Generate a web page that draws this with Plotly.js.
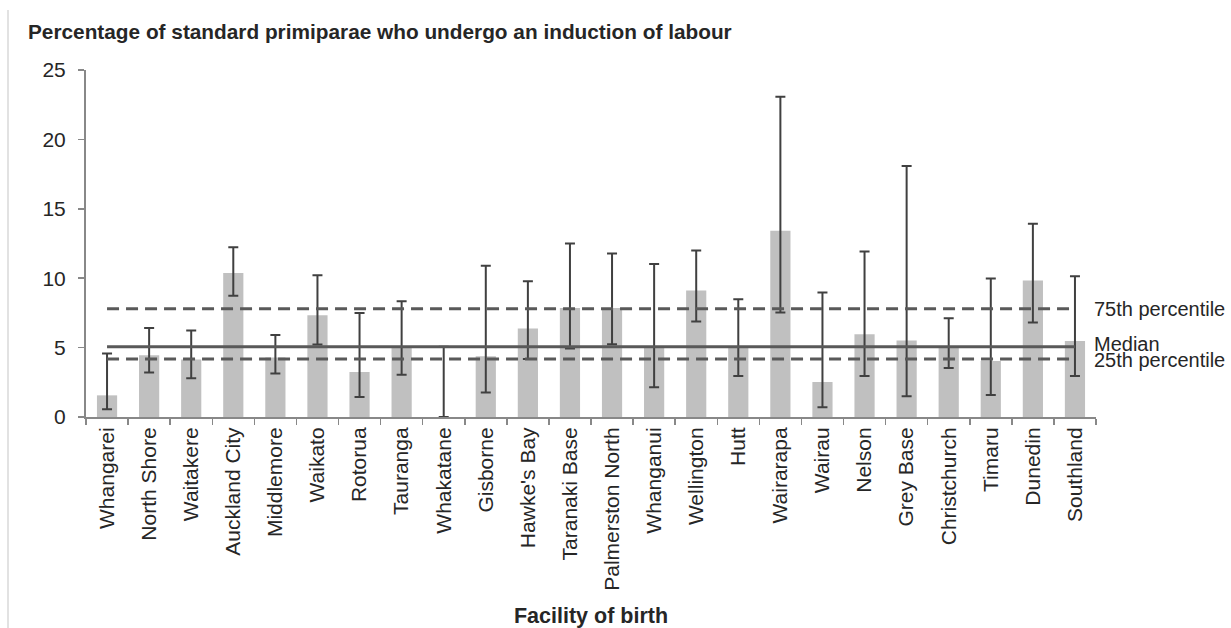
<!DOCTYPE html>
<html>
<head>
<meta charset="utf-8">
<script src="https://cdn.plot.ly/plotly-3.0.1.min.js"></script>
<style>html,body{margin:0;padding:0;background:#fff;}#chart{width:1231px;height:628px;}</style>
</head>
<body>
<div id="chart"></div>
<script>
const facilities = ["Whangarei","North Shore","Waitakere","Auckland City","Middlemore","Waikato","Rotorua","Tauranga","Whakatane","Gisborne","Hawke's Bay","Taranaki Base","Palmerston North","Whanganui","Wellington","Hutt","Wairarapa","Wairau","Nelson","Grey Base","Christchurch","Timaru","Dunedin","Southland"];
const rates  = [1.56, 4.45, 4.14, 10.38, 4.28, 7.33, 3.25, 5.05, 0, 4.38, 6.37, 7.86, 7.86, 5.05, 9.11, 5.05, 13.41, 2.52, 5.96, 5.51, 5.05, 4.04, 9.83, 5.48];
const ciUpper = [4.57, 6.42, 6.23, 12.23, 5.91, 10.22, 7.50, 8.34, 5.07, 10.89, 9.78, 12.50, 11.78, 11.03, 12.00, 8.49, 23.07, 8.97, 11.92, 18.08, 7.12, 9.98, 13.92, 10.14];
const ciLower = [0.55, 3.20, 2.79, 8.73, 3.13, 5.22, 1.44, 3.05, 0, 1.76, 4.18, 4.93, 5.24, 2.14, 6.88, 2.96, 7.53, 0.70, 2.96, 1.49, 3.53, 1.59, 6.80, 2.96];
const median = 5.07;
const p75 = 7.79;
const p25 = 4.18;
const yTicks = [0, 5, 10, 15, 20, 25];

const errPlus = rates.map((v, i) => ciUpper[i] - v);
const errMinus = rates.map((v, i) => v - ciLower[i]);
const firstLast = [facilities[0], facilities[facilities.length - 1]];

const FONT = "Liberation Sans, Arial, sans-serif";
const lineCol = "#595959";
const txtCol = "#262626";

const traces = [
  {
    type: "bar", x: facilities, y: rates,
    marker: {color: "#c0c0c0"},
    error_y: {type: "data", symmetric: false, array: errPlus, arrayminus: errMinus,
              color: "#404040", thickness: 2, width: 5},
    hoverinfo: "x+y"
  },
  {type: "scatter", mode: "lines", x: firstLast, y: [p75, p75],
   line: {color: lineCol, width: 3, dash: "12px,7px"}, hoverinfo: "skip"},
  {type: "scatter", mode: "lines", x: firstLast, y: [p25, p25],
   line: {color: lineCol, width: 3, dash: "12px,7px"}, hoverinfo: "skip"},
  {type: "scatter", mode: "lines", x: firstLast, y: [median, median],
   line: {color: lineCol, width: 3}, hoverinfo: "skip"}
];

const layout = {
  width: 1231, height: 628,
  margin: {l: 86, r: 135, t: 70, b: 211},
  paper_bgcolor: "#fff", plot_bgcolor: "#fff",
  showlegend: false,
  bargap: 0.52,
  font: {family: FONT, color: txtCol},
  title: {text: "<b>Percentage of standard primiparae who undergo an induction of labour</b>",
          font: {family: FONT, size: 20.8, color: txtCol},
          x: 28/1231, xref: "container", xanchor: "left",
          y: 1 - 32/628, yref: "container", yanchor: "middle"},
  xaxis: {
    type: "category", tickangle: -90,
    tickfont: {family: FONT, size: 21, color: txtCol},
    showline: true, linecolor: "#888", linewidth: 2,
    ticks: "outside", ticklen: 6, tickcolor: "#888", tickwidth: 1.5,
    tickson: "boundaries", showgrid: false, zeroline: false,
    range: [-0.5, facilities.length - 0.5],
    title: {text: "<b>Facility of birth</b>", font: {family: FONT, size: 21.5, color: txtCol}, standoff: 18}
  },
  yaxis: {
    range: [0, 25], tickvals: yTicks, ticktext: yTicks.map(String),
    tickfont: {family: FONT, size: 21, color: txtCol},
    showline: true, linecolor: "#888", linewidth: 2,
    ticks: "outside", ticklen: 6, tickcolor: "#888", tickwidth: 1.5,
    showgrid: false, zeroline: false, ticklabelstandoff: 8
  },
  annotations: [
    {text: "75th percentile", x: 1, xref: "paper", xanchor: "left", xshift: -4, y: p75, yref: "y", yanchor: "middle", showarrow: false, font: {family: FONT, size: 20, color: txtCol}},
    {text: "Median", x: 1, xref: "paper", xanchor: "left", xshift: -4, y: median, yref: "y", yanchor: "middle", yshift: 3, showarrow: false, font: {family: FONT, size: 20, color: txtCol}},
    {text: "25th percentile", x: 1, xref: "paper", xanchor: "left", xshift: -4, y: p25, yref: "y", yanchor: "middle", yshift: -1, showarrow: false, font: {family: FONT, size: 20, color: txtCol}}
  ],
  shapes: [
    {type: "line", xref: "paper", yref: "paper", x0: (8-86)/1010, x1: (8-86)/1010, y0: -211/347, y1: (417-10)/347,
     line: {color: "#d9d9d9", width: 1.5}}
  ]
};

Plotly.newPlot("chart", traces, layout, {displayModeBar: false, staticPlot: true});
</script>
</body>
</html>
